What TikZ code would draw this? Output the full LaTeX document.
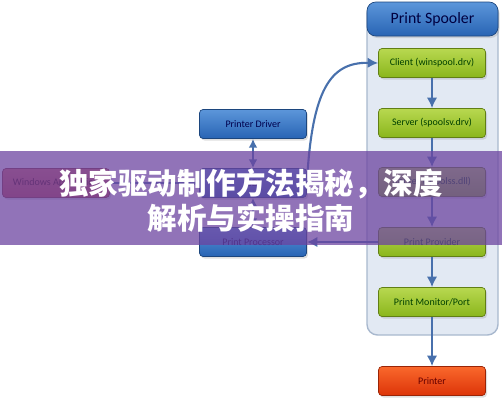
\documentclass[tikz,border=0pt]{standalone}
\usepackage{fontspec}
\setmainfont{Carlito}
\newfontfamily\cjk{Noto Sans CJK SC}
\usetikzlibrary{arrows.meta,shadows}
\definecolor{arrowblue}{RGB}{72,112,172}
\definecolor{boxgreenT}{RGB}{184,216,80}
\definecolor{boxgreenB}{RGB}{138,182,28}
\definecolor{boxblueT}{RGB}{92,150,218}
\definecolor{boxblueB}{RGB}{40,100,180}
\definecolor{boxredT}{RGB}{250,104,44}
\definecolor{boxredB}{RGB}{220,52,8}
\definecolor{boxroseT}{RGB}{222,110,100}
\definecolor{boxroseB}{RGB}{196,70,70}
\definecolor{spoolfill}{RGB}{226,233,243}
\definecolor{spooledge}{RGB}{168,184,206}
\definecolor{bannerpurple}{RGB}{108,68,160}
\begin{document}
\begin{tikzpicture}[x=0.02cm,y=-0.02cm,
  stagebox/.style={draw=#1!70!black,rounded corners=2pt,minimum width=2.14cm,minimum height=0.58cm,
    inner sep=0pt,font=\fontsize{5.7}{6}\selectfont,drop shadow={opacity=0.25,shadow xshift=0.03cm,shadow yshift=-0.04cm}},
  greenbox/.style={stagebox=boxgreenB,top color=boxgreenT,bottom color=boxgreenB,text=black!75!green},
  bluebox/.style={stagebox=boxblueB,top color=boxblueT,bottom color=boxblueB,text=blue!30!black},
  redbox/.style={stagebox=boxredB,top color=boxredT,bottom color=boxredB,text=red!40!black},
  rosebox/.style={stagebox=boxroseB,top color=boxroseT,bottom color=boxroseB,text=red!30!black},
  flow/.style={draw=arrowblue,line width=1.2pt,-{Latex[length=6pt,width=6pt]}},
  twoway/.style={flow,{Latex[length=5pt,width=5pt]}-{Latex[length=5pt,width=5pt]}},
  banner/.style={fill=bannerpurple,fill opacity=0.75},
  bannertext/.style={text=white,font=\cjk\bfseries\fontsize{16.8}{20}\selectfont}]
\useasboundingbox (0,0) rectangle (502,400);
\draw[draw=spooledge,fill=spoolfill,rounded corners=6pt,line width=0.8pt] (367,3) rectangle (498,335);
\node[stagebox=boxblueB,top color=boxblueT,bottom color=boxblueB,minimum width=2.62cm,minimum height=0.68cm,
  rounded corners=5pt,font=\fontsize{9}{10}\selectfont,text=blue!25!black] (spooler) at (432.5,19) {Print Spooler};
\node[greenbox] (client) at (432,63) {Client (winspool.drv)};
\node[greenbox] (server) at (432,123) {Server (spoolsv.drv)};
\node[greenbox] (router) at (432,182) {Router (spoolss.dll)};
\node[greenbox] (provider) at (432,242) {Print Provider};
\node[greenbox] (monitor) at (432,302) {Print Monitor/Port};
\node[redbox] (printer) at (432,381) {Printer};
\node[bluebox] (driver) at (253,124) {Printer Driver};
\node[bluebox] (gdi) at (253,183) {GDI};
\node[bluebox] (processor) at (253,242) {Print Processor};
\node[rosebox] (winapp) at (56,183) {Windows Application};
\draw[flow] (client) -- (server);
\draw[flow] (server) -- (router);
\draw[flow] (router) -- (provider);
\draw[flow] (provider) -- (monitor);
\draw[flow] (monitor) -- (printer);
\draw[flow] (provider) -- (processor);
\draw[flow] (winapp) -- (gdi);
\draw[twoway] (driver) -- (gdi);
\draw[twoway] (gdi) -- (processor);
\draw[flow] (gdi.east) .. controls (312,90) and (330,62) .. (client.west);
\fill[banner] (0,151) rectangle (502,245);
\node[bannertext] (title1) at (251,184) {独家驱动制作方法揭秘，深度};
\node[bannertext] (title2) at (251,218) {解析与实操指南};
\end{tikzpicture}
\end{document}
